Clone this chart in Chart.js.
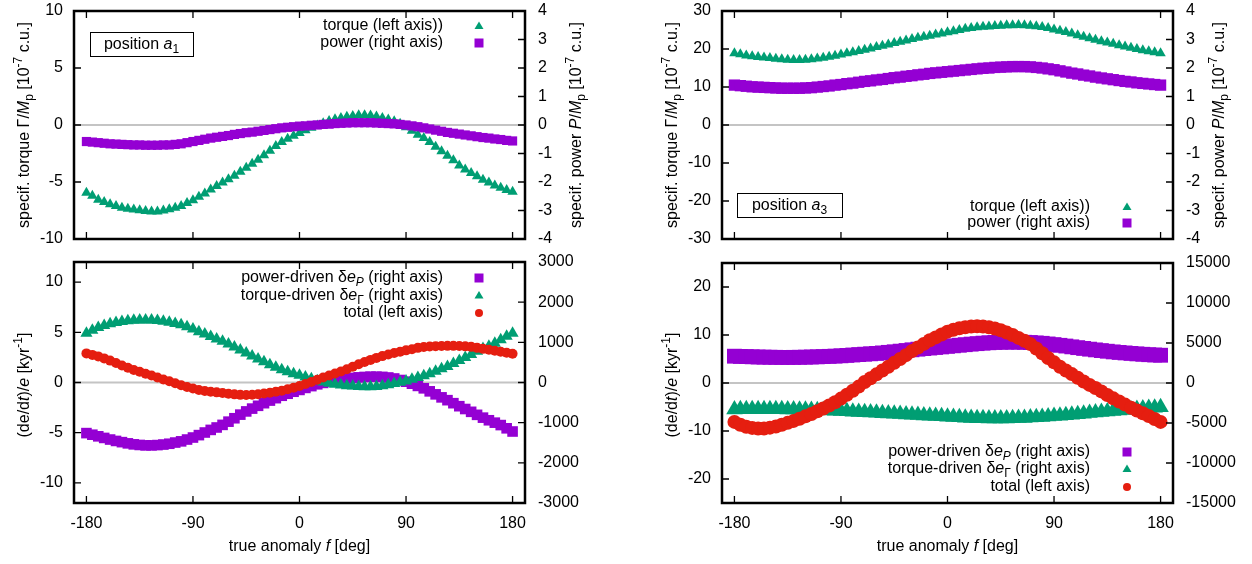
<!DOCTYPE html>
<html>
<head>
<meta charset="utf-8">
<script src="https://cdn.jsdelivr.net/npm/chart.js@4.4.1/dist/chart.umd.min.js"></script>
<style>
  html, body { margin: 0; padding: 0; background: #fff; }
  #wrap { position: relative; width: 1252px; height: 564px; }
  canvas { position: absolute; }
</style>
</head>
<body>
<div id="wrap">
  <canvas id="c1" width="626" height="250" style="left:0;top:0"></canvas>
  <canvas id="c2" width="626" height="250" style="left:626px;top:0"></canvas>
  <canvas id="c3" width="626" height="314" style="left:0;top:250px"></canvas>
  <canvas id="c4" width="626" height="314" style="left:626px;top:250px"></canvas>
</div>
<script>
// true anomaly f [deg]
const trueAnomaly = [-180,-175,-170,-165,-160,-155,-150,-145,-140,-135,-130,-125,
  -120,-115,-110,-105,-100,-95,-90,-85,-80,-75,-70,-65,
  -60,-55,-50,-45,-40,-35,-30,-25,-20,-15,-10,-5,
  0,5,10,15,20,25,30,35,40,45,50,55,
  60,65,70,75,80,85,90,95,100,105,110,115,
  120,125,130,135,140,145,150,155,160,165,170,175,
  180];

// position a1: specific torque (left axis) and power (right axis)
const a1Torque = [-5.95,-6.2,-6.55,-6.75,-6.95,-7.1,-7.25,-7.35,-7.42,-7.48,-7.55,-7.58,
  -7.58,-7.5,-7.4,-7.25,-7.1,-6.85,-6.6,-6.3,-6.0,-5.65,-5.35,-5.05,
  -4.75,-4.45,-4.1,-3.75,-3.4,-3.05,-2.65,-2.25,-1.85,-1.5,-1.2,-0.95,
  -0.7,-0.45,-0.25,-0.05,0.15,0.35,0.5,0.62,0.72,0.8,0.85,0.86,
  0.83,0.75,0.62,0.48,0.32,0.1,-0.2,-0.5,-0.85,-1.15,-1.5,-1.9,
  -2.3,-2.7,-3.1,-3.55,-3.9,-4.2,-4.5,-4.8,-5.05,-5.3,-5.5,-5.7,
  -5.85];
const a1Power = [-0.58,-0.60,-0.62,-0.64,-0.66,-0.67,-0.68,-0.69,-0.70,-0.70,-0.71,-0.71,
  -0.71,-0.70,-0.70,-0.68,-0.66,-0.62,-0.58,-0.54,-0.50,-0.46,-0.43,-0.40,
  -0.37,-0.33,-0.30,-0.27,-0.25,-0.22,-0.19,-0.16,-0.13,-0.10,-0.08,-0.06,
  -0.04,-0.03,-0.01,0.00,0.02,0.03,0.05,0.06,0.07,0.08,0.08,0.08,
  0.08,0.07,0.06,0.05,0.04,0.02,0.00,-0.03,-0.06,-0.10,-0.14,-0.18,
  -0.22,-0.26,-0.29,-0.32,-0.35,-0.38,-0.41,-0.44,-0.46,-0.49,-0.51,-0.54,
  -0.56];

// position a1: (de/dt)/e total (left axis), power- and torque-driven parts (right axis)
const a1Total = [2.90,2.75,2.60,2.40,2.18,1.95,1.70,1.46,1.25,1.07,0.88,0.70,
  0.50,0.30,0.12,-0.08,-0.28,-0.45,-0.60,-0.74,-0.84,-0.92,-0.98,-1.05,
  -1.12,-1.18,-1.23,-1.24,-1.22,-1.17,-1.10,-1.02,-0.93,-0.82,-0.68,-0.52,
  -0.35,-0.15,0.05,0.28,0.50,0.70,0.90,1.10,1.32,1.56,1.82,2.05,
  2.25,2.45,2.63,2.78,2.93,3.07,3.20,3.32,3.45,3.53,3.58,3.62,
  3.64,3.65,3.65,3.63,3.60,3.55,3.45,3.35,3.26,3.17,3.07,2.96,
  2.86];
const a1PowerDriven = [-1260,-1300,-1340,-1380,-1420,-1455,-1485,-1515,-1540,-1555,-1565,-1565,
  -1558,-1545,-1525,-1495,-1465,-1420,-1370,-1310,-1245,-1180,-1120,-1055,
  -975,-890,-800,-720,-650,-580,-515,-450,-390,-330,-280,-230,
  -185,-135,-90,-45,-10,25,55,80,100,115,128,138,
  145,145,140,125,100,62,20,-30,-85,-145,-220,-295,
  -370,-440,-515,-590,-660,-730,-805,-875,-940,-1000,-1060,-1140,
  -1220];
const a1TorqueDriven = [1225,1300,1370,1420,1460,1495,1520,1538,1550,1556,1558,1555,
  1545,1525,1500,1470,1435,1390,1330,1265,1205,1145,1085,1025,
  960,885,810,735,660,585,515,445,380,320,265,220,
  180,135,95,45,10,-20,-45,-65,-80,-90,-98,-103,
  -104,-98,-80,-55,-25,5,35,80,125,170,220,280,
  340,400,475,550,625,700,775,845,905,980,1065,1150,
  1225];

// position a3
const a3Torque = [18.9,18.6,18.3,18.1,17.9,17.75,17.6,17.45,17.3,17.2,17.12,17.1,
  17.15,17.3,17.5,17.72,17.97,18.25,18.55,18.85,19.15,19.45,19.8,20.15,
  20.5,20.85,21.2,21.55,21.9,22.25,22.6,22.95,23.25,23.5,23.8,24.1,
  24.4,24.7,25.0,25.3,25.5,25.7,25.85,25.95,26.05,26.15,26.22,26.28,
  26.3,26.25,26.15,26.0,25.8,25.5,25.15,24.8,24.45,24.05,23.65,23.25,
  22.85,22.45,22.05,21.7,21.35,21.0,20.65,20.3,20.0,19.7,19.4,19.15,
  18.9];
const a3Power = [1.40,1.38,1.36,1.34,1.33,1.32,1.31,1.30,1.29,1.29,1.29,1.29,
  1.30,1.31,1.33,1.35,1.37,1.40,1.42,1.45,1.47,1.50,1.53,1.55,
  1.58,1.60,1.63,1.66,1.68,1.71,1.73,1.76,1.78,1.81,1.83,1.85,
  1.87,1.89,1.91,1.93,1.95,1.97,1.99,2.00,2.02,2.03,2.04,2.05,
  2.05,2.05,2.04,2.02,2.00,1.97,1.94,1.90,1.86,1.82,1.79,1.75,
  1.72,1.68,1.65,1.62,1.59,1.56,1.53,1.51,1.48,1.46,1.44,1.42,
  1.40];
const a3Total = [-8.1,-8.7,-9.1,-9.35,-9.5,-9.5,-9.3,-9.05,-8.7,-8.3,-7.9,-7.45,
  -6.95,-6.45,-5.9,-5.3,-4.7,-4.0,-3.25,-2.45,-1.6,-0.75,0.2,1.0,
  1.8,2.6,3.4,4.2,5.0,5.8,6.65,7.4,8.15,8.9,9.5,10.1,
  10.7,11.1,11.4,11.6,11.75,11.8,11.75,11.6,11.35,11.0,10.5,10.0,
  9.4,8.8,8.1,7.2,6.2,5.2,4.3,3.4,2.6,1.85,1.1,0.3,
  -0.4,-1.05,-1.75,-2.5,-3.2,-3.85,-4.5,-5.15,-5.75,-6.3,-6.9,-7.5,
  -8.1];
const a3PowerDriven = [3350,3325,3300,3275,3250,3235,3220,3210,3200,3200,3205,3215,
  3230,3250,3270,3300,3330,3360,3400,3450,3500,3550,3600,3650,
  3700,3760,3830,3900,3980,4060,4150,4230,4300,4370,4440,4510,
  4580,4650,4720,4790,4860,4920,4980,5030,5070,5100,5110,5115,
  5110,5090,5060,5010,4960,4880,4800,4710,4620,4520,4420,4320,
  4230,4140,4050,3970,3890,3820,3760,3700,3640,3590,3540,3500,
  3470];
const a3TorqueDriven = [-3300,-3290,-3280,-3275,-3270,-3270,-3275,-3280,-3290,-3300,-3315,-3330,
  -3350,-3370,-3395,-3420,-3450,-3480,-3510,-3545,-3580,-3615,-3650,-3690,
  -3730,-3770,-3810,-3850,-3890,-3930,-3970,-4010,-4050,-4090,-4130,-4170,
  -4210,-4250,-4290,-4330,-4365,-4395,-4415,-4430,-4435,-4435,-4425,-4410,
  -4390,-4360,-4325,-4285,-4240,-4190,-4135,-4080,-4020,-3960,-3895,-3830,
  -3765,-3700,-3635,-3570,-3505,-3440,-3380,-3320,-3260,-3200,-3140,-3080,
  -3020];

// tick labels
const xTicks = [-180, -90, 0, 90, 180];
const torqueTicksA1 = [-10, -5, 0, 5, 10];
const torqueTicksA3 = [-30, -20, -10, 0, 10, 20, 30];
const powerTicks = [-4, -3, -2, -1, 0, 1, 2, 3, 4];
const rateTicksA1 = [-10, -5, 0, 5, 10];
const rateTicksA3 = [-20, -10, 0, 10, 20];
const partTicksA1 = [-3000, -2000, -1000, 0, 1000, 2000, 3000];
const partTicksA3 = [-15000, -10000, -5000, 0, 5000, 10000, 15000];

const FONT = '"Liberation Sans", Arial, Helvetica, sans-serif';
const GREEN = '#009e73', PURPLE = '#9400d3', RED = '#e51e10';

// rich text: list of [text, style] with style '', 'i', 'sub', 'sup', 'isub'
const torqueTitle = [['specif. torque Γ/'], ['M', 'i'], ['p', 'sub'], [' [10'], ['-7', 'sup'], [' c.u.]']];
const powerTitle = [['specif. power '], ['P', 'i'], ['/'], ['M', 'i'], ['p', 'sub'], [' [10'], ['-7', 'sup'], [' c.u.]']];
const rateTitle = [['(de/d'], ['t', 'i'], [')/'], ['e', 'i'], [' [kyr'], ['-1', 'sup'], [']']];
const xTitle = [['true anomaly '], ['f', 'i'], [' [deg]']];
const lgTorque = [['torque (left axis))']];
const lgPower = [['power (right axis)']];
const lgPowerDriven = [['power-driven δ'], ['e', 'i'], ['P', 'isub'], [' (right axis)']];
const lgTorqueDriven = [['torque-driven δ'], ['e', 'i'], ['Γ', 'sub'], [' (right axis)']];
const lgTotal = [['total (left axis)']];

function segFont(st, size) {
  const small = st === 'sub' || st === 'sup' || st === 'isub';
  const it = st === 'i' || st === 'isub';
  return (it ? 'italic ' : '') + (small ? Math.round(size * 0.72) : size) + 'px ' + FONT;
}

function drawRich(ctx, segs, x, y, align, size) {
  let w = 0;
  segs.forEach(([t, st]) => { ctx.font = segFont(st, size); w += ctx.measureText(t).width; });
  let cx = align === 'right' ? x - w : align === 'center' ? x - w / 2 : x;
  ctx.textBaseline = 'middle';
  ctx.textAlign = 'left';
  ctx.fillStyle = '#000';
  segs.forEach(([t, st]) => {
    ctx.font = segFont(st, size);
    const dy = (st === 'sub' || st === 'isub') ? size * 0.3 : st === 'sup' ? -size * 0.38 : 0;
    ctx.fillText(t, cx, y + dy);
    cx += ctx.measureText(t).width;
  });
}

function drawMarker(ctx, style, color, x, y) {
  ctx.fillStyle = color;
  ctx.beginPath();
  if (style === 'rect') ctx.rect(x - 4.5, y - 4.5, 9, 9);
  else if (style === 'triangle') { ctx.moveTo(x, y - 4.5); ctx.lineTo(x + 4.5, y + 3); ctx.lineTo(x - 4.5, y + 3); ctx.closePath(); }
  else ctx.arc(x, y, 4, 0, Math.PI * 2);
  ctx.fill();
}

function framePlugin(o) {
  return {
    id: 'frame',
    beforeDatasetsDraw(chart) {
      const { ctx, chartArea: a, scales } = chart;
      const y0 = scales.y.getPixelForValue(0);
      ctx.save();
      ctx.strokeStyle = '#c4c4c4';
      ctx.lineWidth = 2;
      ctx.beginPath(); ctx.moveTo(a.left, y0); ctx.lineTo(a.right, y0); ctx.stroke();
      ctx.restore();
    },
    afterDraw(chart) {
      const { ctx, chartArea: a, scales } = chart;
      ctx.save();
      // inward tics
      ctx.strokeStyle = '#000';
      ctx.lineWidth = 1.3;
      ctx.beginPath();
      scales.x.ticks.forEach(t => {
        const px = scales.x.getPixelForValue(t.value);
        ctx.moveTo(px, a.bottom); ctx.lineTo(px, a.bottom - 7);
        ctx.moveTo(px, a.top); ctx.lineTo(px, a.top + 7);
      });
      scales.y.ticks.forEach(t => {
        const py = scales.y.getPixelForValue(t.value);
        ctx.moveTo(a.left, py); ctx.lineTo(a.left + 7, py);
      });
      scales.y2.ticks.forEach(t => {
        const py = scales.y2.getPixelForValue(t.value);
        ctx.moveTo(a.right, py); ctx.lineTo(a.right - 7, py);
      });
      ctx.stroke();
      // border
      ctx.lineWidth = 2.5;
      ctx.strokeRect(a.left, a.top, a.right - a.left, a.bottom - a.top);

      // axis titles
      o.titles.forEach(tt => {
        ctx.save();
        ctx.translate(tt.x, tt.y);
        if (tt.rot) ctx.rotate(-Math.PI / 2);
        drawRich(ctx, tt.segs, 0, 0, 'center', 16);
        ctx.restore();
      });

      // key
      const ds = chart.data.datasets;
      o.legend.items.forEach((idx, k) => {
        const y = o.legend.ys[k];
        drawRich(ctx, o.legend.labels[k], o.legend.xText, y, 'right', 16);
        drawMarker(ctx, ds[idx].pointStyle, ds[idx].backgroundColor, o.legend.xMark, y);
      });

      // position label box
      if (o.box) {
        const b = o.box;
        ctx.lineWidth = 1;
        ctx.strokeStyle = '#000';
        ctx.strokeRect(b.x + 0.5, b.y + 0.5, b.w, b.h);
        drawRich(ctx, b.segs, b.x + b.w / 2, b.y + b.h / 2 + 1, 'center', 16);
      }
      ctx.restore();
    }
  };
}

function noPad(sc) {
  sc.paddingTop = 0; sc.paddingBottom = 0; sc.paddingLeft = 0; sc.paddingRight = 0;
}

function panel(id, o) {
  const datasets = o.series.map((s, i) => ({
    label: s.label,
    data: trueAnomaly.map((f, k) => ({ x: f, y: s.values[k] })),
    yAxisID: s.axis,
    pointStyle: s.style,
    pointRadius: s.r,
    backgroundColor: s.color,
    pointBorderWidth: 0,
    borderWidth: 0,
    showLine: false,
    order: o.series.length - i
  }));
  const tickFont = { family: FONT, size: 16 };
  const yScale = (pos, lim, ticks, width, pad) => ({
    type: 'linear',
    position: pos,
    min: lim[0],
    max: lim[1],
    afterBuildTicks: sc => { sc.ticks = ticks.map(v => ({ value: v })); },
    afterFit: sc => { sc.width = width; noPad(sc); },
    grid: { display: false, drawTicks: false },
    border: { display: false },
    ticks: { color: '#000', font: tickFont, padding: pad, callback: v => String(v) }
  });
  new Chart(document.getElementById(id), {
    type: 'scatter',
    data: { datasets },
    options: {
      responsive: false,
      animation: false,
      layout: { padding: { top: o.padTop, left: 0, right: 0, bottom: 0 } },
      plugins: { legend: { display: false }, tooltip: { enabled: false } },
      scales: {
        x: {
          type: 'linear',
          min: -190.5,
          max: 190.5,
          afterBuildTicks: sc => { sc.ticks = xTicks.map(v => ({ value: v })); },
          afterFit: sc => { sc.height = o.xH; noPad(sc); },
          grid: { display: false, drawTicks: false },
          border: { display: false },
          ticks: { display: o.showX, color: '#000', font: tickFont, padding: 11, maxRotation: 0, autoSkip: false, callback: v => String(v) }
        },
        y: yScale('left', o.yl, o.ylTicks, o.lw, 11),
        y2: yScale('right', o.yr, o.yrTicks, o.rw, 13)
      }
    },
    plugins: [framePlugin(o)]
  });
}

panel('c1', {
  padTop: 11, xH: 11, lw: 74, rw: 101, showX: false,
  yl: [-10, 10], ylTicks: torqueTicksA1, yr: [-4, 4], yrTicks: powerTicks,
  series: [
    { label: 'torque (left axis))', values: a1Torque, axis: 'y', style: 'triangle', r: 6, color: GREEN },
    { label: 'power (right axis)', values: a1Power, axis: 'y2', style: 'rect', r: 6.5, color: PURPLE }
  ],
  legend: { xText: 443, xMark: 479, ys: [26, 43], items: [0, 1], labels: [lgTorque, lgPower] },
  titles: [{ x: 25, y: 125, rot: true, segs: torqueTitle }, { x: 577, y: 125, rot: true, segs: powerTitle }],
  box: { x: 90, y: 32, w: 103, h: 24, segs: [['position '], ['a', 'i'], ['1', 'sub']] }
});

panel('c2', {
  padTop: 11, xH: 11, lw: 96, rw: 79, showX: false,
  yl: [-30, 30], ylTicks: torqueTicksA3, yr: [-4, 4], yrTicks: powerTicks,
  series: [
    { label: 'torque (left axis))', values: a3Torque, axis: 'y', style: 'triangle', r: 6, color: GREEN },
    { label: 'power (right axis)', values: a3Power, axis: 'y2', style: 'rect', r: 8, color: PURPLE }
  ],
  legend: { xText: 464, xMark: 501, ys: [207, 223], items: [0, 1], labels: [lgTorque, lgPower] },
  titles: [{ x: 47, y: 125, rot: true, segs: torqueTitle }, { x: 594, y: 125, rot: true, segs: powerTitle }],
  box: { x: 111, y: 193, w: 105, h: 24, segs: [['position '], ['a', 'i'], ['3', 'sub']] }
});

panel('c3', {
  padTop: 12, xH: 61, lw: 74, rw: 101, showX: true,
  yl: [-12, 12], ylTicks: rateTicksA1, yr: [-3000, 3000], yrTicks: partTicksA1,
  series: [
    { label: 'power-driven δe_P (right axis)', values: a1PowerDriven, axis: 'y2', style: 'rect', r: 7.5, color: PURPLE },
    { label: 'torque-driven δe_Γ (right axis)', values: a1TorqueDriven, axis: 'y2', style: 'triangle', r: 7, color: GREEN },
    { label: 'total (left axis)', values: a1Total, axis: 'y', style: 'circle', r: 5, color: RED }
  ],
  legend: { xText: 443, xMark: 479, ys: [28, 45.5, 63], items: [0, 1, 2], labels: [lgPowerDriven, lgTorqueDriven, lgTotal] },
  titles: [{ x: 25, y: 135, rot: true, segs: rateTitle }, { x: 299.5, y: 297, rot: false, segs: xTitle }]
});

panel('c4', {
  padTop: 13, xH: 61, lw: 96, rw: 79, showX: true,
  yl: [-25, 25], ylTicks: rateTicksA3, yr: [-15000, 15000], yrTicks: partTicksA3,
  series: [
    { label: 'power-driven δe_P (right axis)', values: a3PowerDriven, axis: 'y2', style: 'rect', r: 10.5, color: PURPLE },
    { label: 'torque-driven δe_Γ (right axis)', values: a3TorqueDriven, axis: 'y2', style: 'triangle', r: 9.5, color: GREEN },
    { label: 'total (left axis)', values: a3Total, axis: 'y', style: 'circle', r: 7, color: RED }
  ],
  legend: { xText: 464, xMark: 501, ys: [202, 219, 237], items: [0, 1, 2], labels: [lgPowerDriven, lgTorqueDriven, lgTotal] },
  titles: [{ x: 47, y: 135, rot: true, segs: rateTitle }, { x: 321.5, y: 297, rot: false, segs: xTitle }]
});
</script>
</body>
</html>
